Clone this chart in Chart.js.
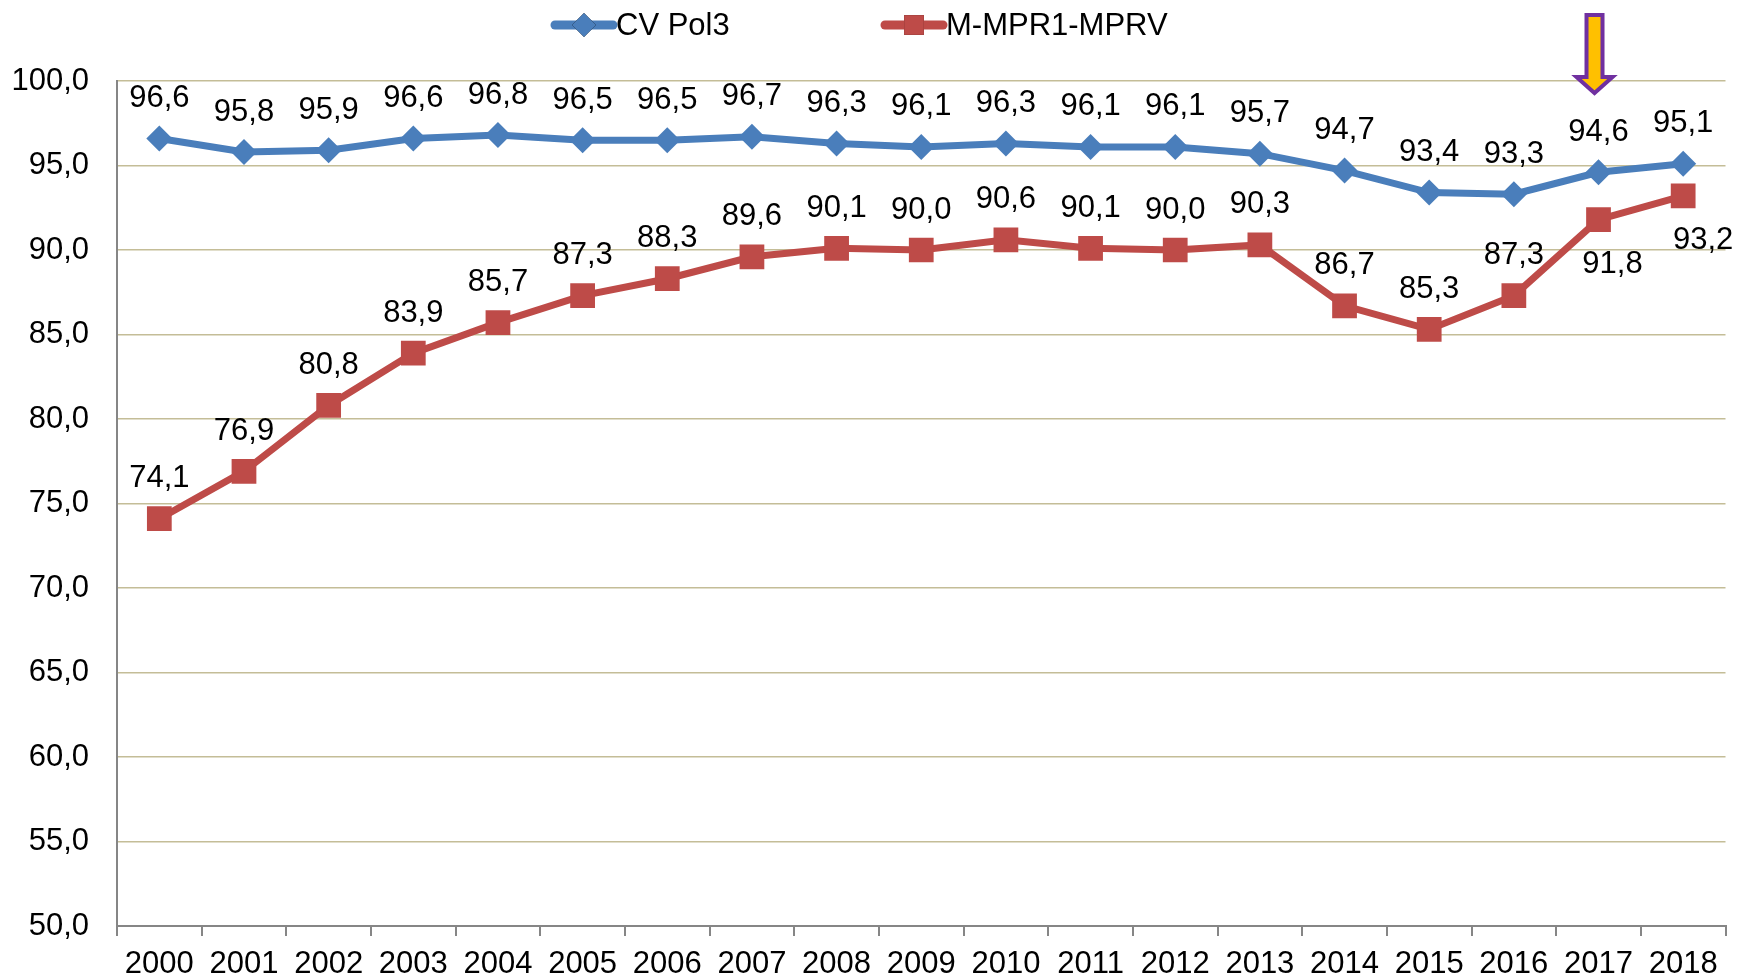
<!DOCTYPE html>
<html>
<head>
<meta charset="utf-8">
<script src="https://cdn.jsdelivr.net/npm/chart.js@4/dist/chart.umd.min.js"></script>
<style>
  html, body { margin: 0; padding: 0; background: #fff; }
  #wrap { width: 1743px; height: 980px; }
</style>
</head>
<body>
<div id="wrap"><canvas id="lineChart" width="1743" height="980"></canvas></div>
<script>
const years = ["2000", "2001", "2002", "2003", "2004", "2005", "2006", "2007", "2008", "2009",
    "2010", "2011", "2012", "2013", "2014", "2015", "2016", "2017", "2018"];
const cvPol3 = [96.6, 95.8, 95.9, 96.6, 96.8, 96.5, 96.5, 96.7, 96.3, 96.1,
    96.3, 96.1, 96.1, 95.7, 94.7, 93.4, 93.3, 94.6, 95.1];
const mmpr = [74.1, 76.9, 80.8, 83.9, 85.7, 87.3, 88.3, 89.6, 90.1, 90.0,
    90.6, 90.1, 90.0, 90.3, 86.7, 85.3, 87.3, 91.8, 93.2];
const seriesNames = ["CV Pol3", "M-MPR1-MPRV"];
const yTicks = [50, 55, 60, 65, 70, 75, 80, 85, 90, 95, 100];
const arrowYear = "2017";
const labelsBelow = ["2017", "2018"]; // red labels placed under the point

const FONT = "'Liberation Sans', Arial, sans-serif";
const FS = 31;
const BLUE = "#4A7EBB";
const RED = "#BE4B48";

function fmt(v) {
    return v.toFixed(1).replace(".", ",");
}

// value labels above / below points
const valueLabels = {
    id: "valueLabels",
    afterDatasetsDraw(chart) {
        const ctx = chart.ctx;
        ctx.save();
        ctx.font = FS + "px " + FONT;
        ctx.fillStyle = "#000";
        ctx.textAlign = "center";
        ctx.textBaseline = "middle";
        chart.data.datasets.forEach(function (ds, di) {
            chart.getDatasetMeta(di).data.forEach(function (pt, i) {
                const yr = years[i];
                let x = pt.x, y = pt.y - 40;
                if (di === 1 && labelsBelow.includes(yr)) {
                    x = pt.x + (yr === "2018" ? 20 : 14);
                    y = pt.y + 45;
                }
                ctx.fillText(fmt(ds.data[i]), x, y);
            });
        });
        ctx.restore();
    }
};

// legend drawn like the Excel one: line with marker in the middle
const topLegend = {
    id: "topLegend",
    afterDraw(chart) {
        const ctx = chart.ctx;
        const items = [
            { x: 555, r: 12, ds: chart.data.datasets[0] },
            { x: 885, r: 14, ds: chart.data.datasets[1] }
        ];
        const y = 25;
        ctx.save();
        items.forEach(function (it) {
            ctx.strokeStyle = it.ds.borderColor;
            ctx.lineWidth = 9;
            ctx.lineCap = "round";
            ctx.beginPath();
            ctx.moveTo(it.x, y);
            ctx.lineTo(it.x + 58, y);
            ctx.stroke();
            Chart.helpers.drawPoint(ctx, {
                pointStyle: it.ds.pointStyle,
                radius: it.r,
                borderWidth: 0
            }, it.x + 29, y);
            ctx.fillStyle = it.ds.pointBackgroundColor;
            ctx.fill();
            ctx.fillStyle = "#000";
            ctx.font = FS + "px " + FONT;
            ctx.textAlign = "left";
            ctx.textBaseline = "middle";
            ctx.fillText(it.ds.label, it.x + 61, y + 1);
        });
        ctx.restore();
    }
};

// purple / yellow arrow above 2017
const arrowMark = {
    id: "arrowMark",
    afterDraw(chart) {
        const ctx = chart.ctx;
        const cx = chart.scales.x.getPixelForValue(years.indexOf(arrowYear)) - 4;
        const top = 15, headTop = 77, tip = 93;
        const sw = 8, hw = 18;
        ctx.save();
        ctx.beginPath();
        ctx.moveTo(cx - sw, top);
        ctx.lineTo(cx + sw, top);
        ctx.lineTo(cx + sw, headTop);
        ctx.lineTo(cx + hw, headTop);
        ctx.lineTo(cx, tip);
        ctx.lineTo(cx - hw, headTop);
        ctx.lineTo(cx - sw, headTop);
        ctx.closePath();
        ctx.fillStyle = "#FFC000";
        ctx.fill();
        ctx.strokeStyle = "#7030A0";
        ctx.lineWidth = 4;
        ctx.lineJoin = "miter";
        ctx.stroke();
        ctx.restore();
    }
};

document.addEventListener("DOMContentLoaded", function () {
    const ctx = document.getElementById("lineChart").getContext("2d");
    new Chart(ctx, {
        type: "line",
        data: {
            labels: years,
            datasets: [{
                label: seriesNames[0],
                data: cvPol3,
                borderColor: BLUE,
                backgroundColor: BLUE,
                pointBackgroundColor: BLUE,
                pointBorderColor: BLUE,
                borderWidth: 7,
                pointStyle: "rectRot",
                pointRadius: 13,
                pointBorderWidth: 0,
                fill: false,
                tension: 0
            }, {
                label: seriesNames[1],
                data: mmpr,
                borderColor: RED,
                backgroundColor: RED,
                pointBackgroundColor: RED,
                pointBorderColor: RED,
                borderWidth: 7,
                pointStyle: "rect",
                pointRadius: 17.5,
                pointBorderWidth: 0,
                fill: false,
                tension: 0
            }]
        },
        options: {
            responsive: false,
            animation: false,
            layout: { padding: { top: 81, right: 11, left: 0, bottom: 0 } },
            plugins: {
                legend: { display: false },
                tooltip: { enabled: false }
            },
            scales: {
                x: {
                    offset: true,
                    grid: {
                        offset: true,
                        drawOnChartArea: false,
                        color: "#868686",
                        lineWidth: 2,
                        tickLength: 10
                    },
                    border: { color: "#868686", width: 2 },
                    ticks: {
                        color: "#000",
                        font: { family: FONT, size: FS },
                        padding: 10,
                        maxRotation: 0,
                        autoSkip: false
                    },
                    afterFit: function (s) { s.height = 54; }
                },
                y: {
                    min: yTicks[0],
                    max: yTicks[yTicks.length - 1],
                    afterBuildTicks: function (s) {
                        s.ticks = yTicks.map(function (v) { return { value: v }; });
                    },
                    grid: {
                        color: "#C4BD97",
                        lineWidth: 1.5,
                        drawTicks: false
                    },
                    border: { color: "#868686", width: 2 },
                    ticks: {
                        color: "#000",
                        font: { family: FONT, size: FS },
                        padding: 28,
                        callback: function (v) { return fmt(v); }
                    },
                    afterFit: function (s) { s.width = 117; }
                }
            }
        },
        plugins: [valueLabels, topLegend, arrowMark]
    });
});
</script>
</body>
</html>
